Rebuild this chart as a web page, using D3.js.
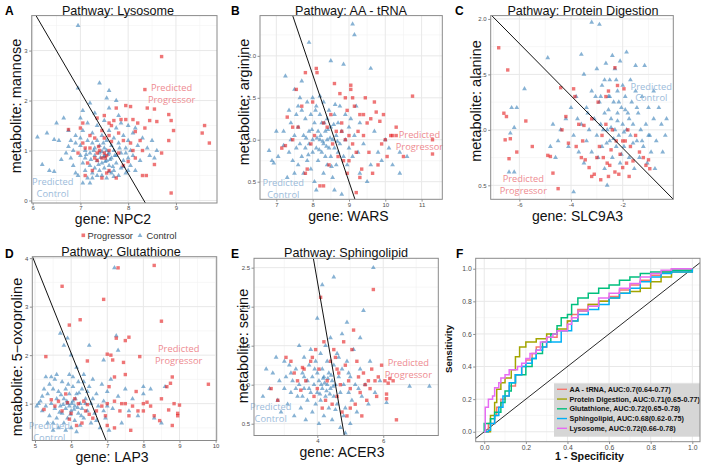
<!DOCTYPE html>
<html><head><meta charset="utf-8">
<script src="https://cdn.jsdelivr.net/npm/d3@7"></script>
<style>body{margin:0;background:#fff}svg{display:block}</style>
</head><body>
<svg id="c" width="704" height="466"></svg>
<script>
// ---------------- DATA ----------------
const lysoCtrl=[[6.1,1.27],[6.2,0.72],[6.35,0.6],[6.45,0.58],[6.3,1.35],[6.45,1.22],[6.55,1.2],[6.5,1.55],[6.6,0.82],[6.65,1.65],[6.7,0.95],[6.75,1.08],[6.8,1.2],[6.8,0.85],[6.85,1.0],[6.85,0.7],[6.9,1.3],[6.9,0.55],[6.95,0.5],[6.95,3.5],[6.95,2.25],[7.0,1.25],[7.0,0.9],[7.0,1.1],[7.05,0.35],[7.05,0.75],[7.05,1.4],[7.1,1.0],[7.1,0.6],[7.1,0.85],[7.15,1.2],[7.15,0.45],[7.2,0.35],[7.2,1.95],[7.2,0.95],[7.2,0.7],[7.25,1.15],[7.25,0.55],[7.25,1.35],[7.3,1.75],[7.3,0.9],[7.3,0.65],[7.3,1.05],[7.35,1.5],[7.35,0.8],[7.35,1.2],[7.4,2.35],[7.4,0.95],[7.4,0.6],[7.4,1.1],[7.45,1.3],[7.45,0.75],[7.45,0.5],[7.5,1.6],[7.5,0.9],[7.5,1.05],[7.5,0.65],[7.55,2.05],[7.55,0.8],[7.55,1.2],[7.55,0.45],[7.6,2.2],[7.6,0.95],[7.6,0.7],[7.6,1.4],[7.65,1.1],[7.65,0.55],[7.65,0.85],[7.7,1.25],[7.7,0.6],[7.7,1.0],[7.75,0.75],[7.75,1.45],[7.75,0.9],[7.8,1.15],[7.8,0.5],[7.8,1.7],[7.85,0.95],[7.85,0.65],[7.9,1.3],[7.9,0.8],[7.95,1.05],[7.95,0.55],[8.0,1.2],[8.0,0.85],[8.05,1.0],[8.05,0.7],[8.1,1.35],[8.1,0.9],[8.15,0.6],[8.2,1.1],[8.25,0.8],[8.3,1.25],[8.4,1.05],[8.45,0.9],[8.5,1.2],[8.55,0.85],[8.6,1.0],[7.0,1.65],[6.75,1.4],[7.15,1.55],[7.05,1.8],[6.9,1.15],[7.6,1.85],[7.75,2.0],[7.85,1.55],[8.0,1.5],[8.15,1.45],[7.45,0.98],[7.5,0.88],[7.55,1.0],[7.42,0.86],[7.58,0.92],[7.52,0.78],[7.38,0.72],[7.62,0.82],[7.48,1.15],[7.28,1.0],[7.22,0.82],[7.12,0.92],[7.68,0.68],[7.72,0.9],[7.82,1.05],[7.9,0.68],[7.95,0.95],[8.0,0.6],[7.35,0.5],[7.6,0.58],[7.7,0.48],[7.25,0.45]];
const lysoProg=[[8.7,2.88],[8.35,2.22],[8.55,1.83],[8.6,1.58],[8.85,1.72],[8.9,1.6],[8.95,1.4],[8.85,1.2],[9.6,1.5],[9.55,1.35],[9.7,1.15],[8.9,0.15],[8.7,0.95],[8.55,0.72],[8.3,0.5],[8.38,0.5],[8.3,1.0],[8.2,1.55],[8.35,1.45],[8.15,1.38],[8.1,1.62],[8.4,1.85],[8.05,1.88],[7.95,1.9],[7.75,1.85],[7.85,1.62],[7.95,1.62],[7.6,1.55],[7.5,1.7],[7.35,1.65],[7.6,1.3],[7.5,1.25],[7.65,1.18],[7.2,1.3],[7.05,1.55],[6.75,1.42],[7.1,1.05],[7.2,1.05],[7.35,0.8],[7.3,0.85],[7.35,0.95],[7.4,1.0],[7.38,1.08],[7.5,0.95],[7.55,0.9],[7.52,0.85],[7.6,1.0],[7.45,0.85],[7.25,0.6],[7.1,0.5],[7.45,0.45],[7.6,0.6],[7.9,0.7],[8.0,0.78],[8.1,1.0],[8.05,1.15],[7.9,1.2],[7.8,1.35],[7.65,1.5],[7.7,1.6],[7.0,1.45],[7.05,1.15],[6.95,0.95],[7.15,0.75],[7.55,0.55],[7.75,0.45],[8.15,0.85],[8.25,1.2],[7.8,0.95],[7.3,1.25],[7.45,1.4],[8.45,1.6]];
const trnaCtrl=[[6.8,0.87],[6.88,0.75],[6.93,0.72],[7.0,1.1],[7.05,0.8],[7.2,0.93],[7.25,1.76],[7.3,0.55],[7.35,0.85],[7.4,1.0],[7.4,1.2],[7.45,0.75],[7.5,1.05],[7.5,1.6],[7.55,0.9],[7.55,1.3],[7.6,0.7],[7.6,1.15],[7.65,1.5],[7.65,0.95],[7.7,1.35],[7.7,0.8],[7.7,1.7],[7.75,1.05],[7.75,0.6],[7.8,1.25],[7.8,0.9],[7.85,1.45],[7.85,0.75],[7.9,2.16],[7.9,1.1],[7.9,0.95],[7.95,1.3],[7.95,0.65],[8.0,1.5],[8.0,1.0],[8.0,0.85],[8.05,1.2],[8.05,0.5],[8.1,1.4],[8.1,0.9],[8.1,0.4],[8.15,1.1],[8.15,0.75],[8.2,1.3],[8.2,1.0],[8.2,1.52],[8.25,0.85],[8.25,1.2],[8.3,0.95],[8.3,1.45],[8.3,0.6],[8.35,1.1],[8.35,0.8],[8.4,1.25],[8.4,1.0],[8.4,0.7],[8.45,1.35],[8.45,0.9],[8.5,1.94],[8.5,1.15],[8.5,0.8],[8.55,1.0],[8.55,0.55],[8.6,1.3],[8.6,0.9],[8.6,0.4],[8.65,1.05],[8.65,0.7],[8.7,1.2],[8.7,0.85],[8.75,1.4],[8.75,0.95],[8.8,0.35],[8.8,1.1],[8.85,1.9],[8.85,0.8],[8.9,1.0],[8.9,1.3],[8.95,0.7],[9.0,1.15],[9.0,0.9],[9.05,1.25],[9.1,2.38],[9.1,0.8],[9.15,2.25],[9.15,1.05],[9.2,1.4],[9.3,0.6],[9.3,1.2],[9.4,0.95],[9.5,0.5],[9.6,1.85],[9.7,1.1],[9.8,0.85],[10.1,0.9],[10.2,0.7],[10.4,0.85],[10.4,0.6],[10.6,0.8],[8.22,1.05],[8.28,0.98],[8.38,0.92],[8.42,1.12],[8.12,1.02],[8.18,0.88],[8.48,1.02],[8.32,1.2],[7.98,1.12],[8.08,1.35],[8.58,1.18],[8.68,0.98],[7.82,1.02],[7.88,0.82],[8.52,0.68],[8.62,1.42],[7.6,1.4],[7.5,0.6],[7.35,1.35],[7.2,1.1],[9.25,0.85],[9.6,0.7],[10.0,1.0],[9.9,0.75]];
const trnaProg=[[7.15,0.9],[7.25,0.93],[7.3,1.27],[7.45,1.15],[7.45,1.0],[7.55,1.6],[7.7,1.4],[7.8,1.8],[7.8,0.6],[7.85,0.65],[7.95,0.95],[8.0,1.45],[8.1,1.85],[8.12,1.8],[8.2,0.45],[8.3,0.45],[8.4,1.15],[8.5,1.3],[8.6,1.67],[8.75,1.55],[8.8,1.2],[8.8,1.1],[8.9,1.0],[8.95,1.35],[9.0,0.75],[9.05,1.6],[9.05,1.65],[9.1,1.5],[9.15,1.4],[9.2,0.37],[9.2,0.85],[9.3,1.3],[9.35,0.65],[9.4,1.05],[9.45,1.5],[9.5,1.2],[9.55,0.85],[9.6,1.25],[9.7,1.45],[9.75,1.33],[9.8,0.7],[9.85,1.22],[9.9,0.95],[10.0,1.0],[10.05,0.8],[10.15,1.05],[10.2,1.05],[10.3,1.15],[10.5,0.8],[10.75,1.52],[11.3,1.0],[11.3,0.83],[8.55,0.95],[8.65,1.1],[8.7,0.8],[8.45,0.7],[8.85,0.75],[9.1,0.95],[9.25,1.1],[9.4,1.3],[9.0,1.05],[8.9,1.5],[8.3,1.2],[8.05,1.05],[7.6,1.15],[9.65,0.6],[9.3,0.55],[8.95,0.6],[10.3,1.05],[9.95,1.3]];
const protCtrl=[[-6.4,0.62],[-6.2,0.62],[-6.35,0.97],[-6.2,1.02],[-6.1,1.2],[-6.3,1.2],[-5.8,1.37],[-4.9,1.65],[-4.7,1.05],[-4.6,0.75],[-4.4,1.0],[-4.2,1.1],[-4.1,0.85],[-4.0,1.2],[-3.9,0.44],[-3.9,0.95],[-3.8,1.3],[-3.7,0.8],[-3.6,1.68],[-3.6,1.05],[-3.5,1.5],[-3.5,0.7],[-3.4,1.2],[-3.4,0.9],[-3.3,1.0],[-3.2,1.97],[-3.2,1.35],[-3.2,0.8],[-3.1,1.1],[-3.0,1.55],[-3.0,0.95],[-2.95,0.75],[-2.9,1.95],[-2.9,1.25],[-2.85,1.05],[-2.8,1.4],[-2.8,0.85],[-2.7,1.15],[-2.7,0.65],[-2.65,1.6],[-2.6,0.5],[-2.6,1.0],[-2.55,1.3],[-2.5,0.9],[-2.5,1.45],[-2.45,1.1],[-2.4,1.67],[-2.4,0.75],[-2.35,1.25],[-2.3,1.0],[-2.3,1.55],[-2.25,0.85],[-2.2,1.35],[-2.2,1.15],[-2.15,0.95],[-2.1,1.62],[-2.1,0.7],[-2.05,1.2],[-2.0,1.05],[-2.0,1.4],[-1.95,0.85],[-1.9,1.3],[-1.85,1.7],[-1.85,1.0],[-1.8,1.15],[-1.75,0.75],[-1.7,1.45],[-1.7,0.95],[-1.65,1.25],[-1.6,1.05],[-1.55,0.65],[-1.5,1.35],[-1.5,1.58],[-1.45,0.9],[-1.4,1.15],[-1.35,0.75],[-1.3,1.0],[-1.25,1.3],[-1.2,0.85],[-1.15,1.58],[-1.1,1.05],[-1.05,0.7],[-1.0,1.2],[-0.95,0.95],[-0.9,0.8],[-0.8,1.1],[-0.75,0.65],[-0.7,0.9],[-0.6,1.2],[-0.5,1.05],[-0.45,0.8],[-0.35,0.95],[-0.3,1.1],[-2.45,1.02],[-2.35,0.92],[-2.2,1.08],[-2.15,1.25],[-2.55,1.18],[-2.62,0.88],[-1.95,0.98],[-1.9,1.18],[-2.05,0.78],[-2.75,1.0],[-2.85,1.3],[-1.75,1.1],[-1.6,0.88],[-3.35,1.15],[-3.05,1.3],[-4.5,0.9],[-4.8,0.85],[-3.75,1.1],[-1.25,0.9],[-2.5,1.3],[-0.8,1.35],[-1.0,0.95],[-2.7,1.45],[-2.25,1.45],[-1.45,1.2]];
const protProg=[[-6.8,1.74],[-6.45,1.54],[-6.6,1.15],[-6.5,1.12],[-6.35,0.92],[-6.55,0.91],[-6.1,0.8],[-6.4,0.74],[-5.75,1.08],[-5.5,0.85],[-4.9,0.77],[-4.8,0.76],[-4.7,0.61],[-4.5,0.47],[-4.4,1.38],[-4.35,1.0],[-4.2,1.12],[-4.1,0.88],[-3.9,1.37],[-3.85,1.3],[-3.7,1.05],[-3.6,0.75],[-3.5,1.04],[-3.45,0.73],[-3.3,0.66],[-3.2,0.58],[-3.1,0.6],[-3.0,0.75],[-2.95,1.25],[-2.9,0.85],[-2.8,0.95],[-2.75,0.75],[-2.65,1.05],[-2.6,0.7],[-2.55,1.35],[-2.5,0.68],[-2.45,0.82],[-2.4,1.0],[-2.3,0.62],[-2.25,0.9],[-2.2,1.4],[-2.15,0.6],[-2.1,0.78],[-2.0,0.66],[-1.95,1.37],[-1.9,0.9],[-1.85,0.7],[-1.8,1.0],[-1.7,0.85],[-1.6,0.72],[-1.5,0.95],[-1.35,0.8],[-1.2,0.75],[-1.1,0.68],[-1.0,0.73],[-0.95,0.65],[-2.3,1.56],[-2.65,1.3],[-3.2,1.1],[-3.8,0.85],[-2.0,0.9],[-1.75,0.58],[-2.85,0.55],[-2.55,0.58],[-3.55,0.9]];
const glutCtrl=[[5.05,0.95],[5.1,1.0],[5.15,1.05],[5.2,0.85],[5.25,1.3],[5.3,1.55],[5.3,0.95],[5.35,1.2],[5.4,0.75],[5.4,1.4],[5.45,1.0],[5.5,1.3],[5.5,0.6],[5.55,0.9],[5.55,1.5],[5.6,1.1],[5.6,0.7],[5.65,1.25],[5.65,0.5],[5.7,2.45],[5.7,0.95],[5.75,1.45],[5.75,0.8],[5.8,2.2],[5.8,1.1],[5.8,0.6],[5.85,1.3],[5.85,0.9],[5.9,2.35],[5.9,1.0],[5.9,0.7],[5.95,1.6],[5.95,1.2],[6.0,2.0],[6.0,0.85],[6.0,0.5],[6.05,1.05],[6.05,1.35],[6.1,0.95],[6.1,0.65],[6.15,1.75],[6.15,1.2],[6.2,0.8],[6.2,1.45],[6.25,1.0],[6.25,0.55],[6.3,1.3],[6.3,0.9],[6.35,1.6],[6.35,0.7],[6.4,1.1],[6.45,0.85],[6.5,2.2],[6.5,1.35],[6.55,1.0],[6.55,0.6],[6.6,1.5],[6.65,0.8],[6.7,1.2],[6.75,0.95],[6.8,0.5],[6.85,1.4],[6.9,1.9],[6.9,1.05],[6.95,0.7],[7.0,1.25],[7.05,0.45],[7.1,1.5],[7.15,0.9],[7.2,3.8],[7.25,2.4],[7.3,2.1],[7.3,1.15],[7.4,0.6],[7.5,1.3],[7.6,0.85],[7.7,1.1],[7.85,0.75],[8.0,1.35],[8.0,1.2],[8.2,1.3],[8.3,0.7],[8.5,0.6],[8.6,1.35],[5.95,0.95],[6.02,1.0],[5.98,0.78],[6.08,0.88],[5.88,1.05],[6.12,1.1],[5.78,0.98],[6.18,0.92],[5.72,1.18],[6.22,1.22],[5.68,0.82],[6.28,0.75],[5.92,1.4],[6.4,1.0],[6.45,1.25],[6.6,1.1],[6.7,0.65],[5.45,1.55],[5.35,0.6],[5.6,1.6],[6.05,1.55],[6.35,1.45],[5.2,1.15],[6.9,0.85],[7.0,0.95],[5.5,0.45],[5.85,0.45],[6.15,0.42]];
const glutProg=[[5.3,1.97],[5.75,3.42],[5.95,2.62],[6.25,2.73],[6.45,1.88],[6.9,3.15],[7.0,2.02],[7.1,2.0],[7.15,1.9],[7.25,2.35],[7.3,3.8],[7.5,2.3],[7.6,2.37],[7.45,1.85],[7.2,1.55],[7.5,1.6],[7.9,1.97],[8.3,3.85],[8.5,2.7],[8.65,1.35],[8.75,1.42],[8.8,1.55],[8.85,1.0],[9.0,0.97],[8.95,0.8],[8.95,0.75],[8.8,0.55],[8.7,0.87],[8.5,1.1],[8.45,0.65],[8.3,0.75],[8.0,1.0],[8.0,0.85],[8.1,1.03],[7.85,0.85],[7.7,0.95],[7.65,0.45],[7.6,0.75],[7.5,1.0],[7.4,1.0],[7.35,0.85],[7.2,1.05],[7.2,0.5],[7.05,1.35],[7.0,1.0],[6.95,0.75],[6.85,0.95],[6.7,0.85],[6.6,0.7],[6.5,0.78],[6.45,0.98],[6.35,1.05],[6.3,0.6],[6.2,1.0],[6.1,1.1],[6.0,0.8],[5.95,0.68],[5.85,1.2],[5.75,0.85],[5.65,1.05],[5.55,0.95],[5.45,1.08],[5.25,0.88],[5.9,1.02],[6.15,0.55],[6.4,0.85],[9.8,1.4],[7.8,1.25],[7.0,0.55],[8.2,0.95]];
const sphCtrl=[[2.35,0.85],[2.45,1.2],[2.55,0.95],[2.65,1.15],[2.75,1.35],[2.8,0.8],[2.85,1.05],[2.9,0.65],[3.0,1.3],[3.0,0.95],[3.05,1.1],[3.1,0.75],[3.15,1.25],[3.2,0.9],[3.25,1.05],[3.3,0.6],[3.35,1.2],[3.4,0.85],[3.45,1.5],[3.45,1.0],[3.5,0.7],[3.55,1.15],[3.6,0.95],[3.6,1.35],[3.65,0.55],[3.7,1.05],[3.7,0.8],[3.75,1.25],[3.8,0.9],[3.8,1.45],[3.85,1.1],[3.85,0.65],[3.9,1.0],[3.95,1.3],[3.95,0.75],[4.0,1.85],[4.0,1.15],[4.0,0.9],[4.05,0.5],[4.05,1.05],[4.1,1.4],[4.1,0.8],[4.15,2.28],[4.15,1.2],[4.15,0.95],[4.2,0.6],[4.2,1.1],[4.25,1.5],[4.25,0.85],[4.3,1.0],[4.3,1.3],[4.35,0.7],[4.35,1.15],[4.4,0.95],[4.4,1.6],[4.45,1.05],[4.45,0.55],[4.5,2.38],[4.5,1.25],[4.5,0.85],[4.55,1.0],[4.6,1.4],[4.6,0.75],[4.65,1.1],[4.7,0.45],[4.7,0.9],[4.75,1.65],[4.75,1.2],[4.8,1.0],[4.85,0.38],[4.85,0.7],[4.9,1.8],[4.9,1.3],[4.95,0.9],[5.0,1.1],[5.0,0.5],[5.05,0.8],[5.1,1.45],[5.15,1.0],[5.2,0.65],[5.3,1.6],[5.3,1.2],[5.35,0.85],[5.4,1.95],[5.45,1.0],[5.55,0.75],[5.6,1.3],[5.7,2.5],[5.75,0.9],[5.9,1.05],[6.1,0.77],[6.8,0.98],[7.4,0.98],[4.22,1.02],[4.28,0.92],[4.32,1.08],[4.38,0.88],[4.12,1.0],[4.18,1.08],[4.42,1.12],[4.48,0.98],[4.08,0.88],[3.92,1.2],[4.55,0.68],[3.75,0.95],[3.55,0.85],[4.65,1.35],[4.8,0.6],[3.35,0.95],[4.95,1.15],[3.2,1.15],[5.25,0.95],[3.6,1.1]];
const sphProg=[[2.6,0.95],[2.8,0.8],[3.05,1.35],[3.2,1.3],[3.3,1.15],[3.4,1.05],[3.5,0.93],[3.55,1.22],[3.65,1.05],[3.6,1.2],[3.8,1.3],[3.85,1.35],[3.9,0.85],[4.0,0.95],[4.1,2.12],[4.2,1.55],[4.3,1.05],[4.4,1.3],[4.5,1.45],[4.55,1.35],[4.6,0.85],[4.65,1.15],[4.7,1.0],[4.75,0.65],[4.8,1.55],[4.85,1.25],[4.9,0.6],[4.95,1.05],[5.0,0.95],[5.05,1.45],[5.1,1.7],[5.15,0.75],[5.2,1.3],[5.25,1.1],[5.3,0.9],[5.35,0.6],[5.45,1.0],[5.5,0.8],[5.55,1.05],[5.6,0.95],[5.65,1.2],[5.7,2.22],[5.75,1.05],[5.8,0.85],[5.85,1.1],[6.05,1.05],[6.1,0.88],[6.1,0.82],[6.15,1.02],[6.2,1.08],[6.3,1.05],[6.4,0.55],[5.95,1.25],[4.45,0.75],[4.25,0.8],[3.95,1.45],[4.05,1.2],[4.15,0.7],[5.4,1.15],[5.0,0.7],[4.6,1.2]];

// decision boundaries (two endpoints, data units)
const lysoLine=[[6.07,3.7],[8.36,-0.05]];
const trnaLine=[[7.45,2.48],[9.165,0.29]];
const protLine=[[-7.07,2.03],[-0.04,0.374]];
const glutLine=[[4.93,4.03],[6.97,0.24]];
const sphLine=[[3.88,2.62],[4.82,0.349]];

// tick labels
const lysoXTicks=[6,7,8,9], lysoYTicks=[0,1,2,3];
const trnaXTicks=[7,8,9,10,11], trnaYTicks=[0.5,1.0,1.5,2.0];
const protXTicks=[-6,-4,-2], protYTicks=[0.5,1.0,1.5,2.0];
const glutXTicks=[5,6,7,8,9,10], glutYTicks=[1,2,3,4];
const sphXTicks=[4,6], sphYTicks=[0.5,1.0,1.5,2.0,2.5];
const rocTicks=[0,0.2,0.4,0.6,0.8,1.0];

// ROC curves [1-specificity, sensitivity]
const rocAA=[[0,0],[0.02,0.05],[0.05,0.1],[0.06,0.15],[0.08,0.2],[0.1,0.22],[0.12,0.28],[0.15,0.35],[0.18,0.4],[0.2,0.44],[0.23,0.48],[0.25,0.52],[0.3,0.58],[0.35,0.62],[0.4,0.68],[0.42,0.72],[0.45,0.75],[0.5,0.78],[0.55,0.8],[0.6,0.83],[0.65,0.87],[0.7,0.9],[0.75,0.93],[0.8,0.96],[0.85,0.98],[0.9,1.0],[1,1]];
const rocProt=[[0,0],[0.03,0.1],[0.05,0.18],[0.06,0.26],[0.08,0.3],[0.1,0.33],[0.13,0.38],[0.15,0.46],[0.17,0.52],[0.2,0.55],[0.25,0.57],[0.3,0.6],[0.35,0.63],[0.4,0.68],[0.45,0.74],[0.5,0.78],[0.55,0.8],[0.6,0.82],[0.65,0.85],[0.7,0.86],[0.75,0.88],[0.8,0.92],[0.85,0.95],[0.9,0.98],[1,1]];
const rocGlut=[[0,0],[0,0.05],[0.03,0.08],[0.05,0.12],[0.08,0.18],[0.1,0.25],[0.13,0.3],[0.15,0.35],[0.2,0.4],[0.23,0.45],[0.25,0.48],[0.28,0.55],[0.32,0.6],[0.35,0.65],[0.37,0.7],[0.4,0.72],[0.42,0.78],[0.45,0.82],[0.5,0.85],[0.55,0.88],[0.6,0.9],[0.65,0.93],[0.7,0.95],[0.75,0.97],[0.8,0.98],[0.9,0.99],[1,1]];
const rocSph=[[0,0],[0.02,0.01],[0.03,0.05],[0.05,0.1],[0.07,0.15],[0.09,0.22],[0.12,0.3],[0.15,0.35],[0.18,0.4],[0.2,0.42],[0.23,0.45],[0.25,0.5],[0.28,0.52],[0.3,0.55],[0.35,0.55],[0.37,0.62],[0.42,0.68],[0.45,0.72],[0.5,0.75],[0.55,0.78],[0.6,0.82],[0.65,0.85],[0.7,0.88],[0.75,0.92],[0.8,0.95],[0.85,0.97],[0.9,0.98],[1,1]];
const rocLyso=[[0,0],[0.005,0.15],[0.02,0.15],[0.02,0.2],[0.04,0.22],[0.05,0.27],[0.07,0.3],[0.08,0.33],[0.1,0.35],[0.12,0.38],[0.15,0.38],[0.16,0.4],[0.18,0.42],[0.2,0.45],[0.22,0.48],[0.25,0.5],[0.27,0.55],[0.3,0.58],[0.33,0.6],[0.35,0.62],[0.4,0.66],[0.42,0.7],[0.45,0.74],[0.5,0.77],[0.55,0.82],[0.6,0.85],[0.65,0.88],[0.7,0.91],[0.75,0.95],[0.8,0.97],[0.85,0.99],[0.9,1.0],[1,1]];
const rocNames=["AA - tRNA, AUC:0.7(0.64-0.77)","Protein Digestion, AUC:0.71(0.65-0.77)","Glutathione, AUC:0.72(0.65-0.78)","Sphingolipid, AUC:0.68(0.62-0.75)","Lysosome, AUC:0.72(0.66-0.78)"];
const rocSeries=[rocAA,rocProt,rocGlut,rocSph,rocLyso];
const rocColors=["#F8766D","#A3A500","#00BF7D","#00B0F6","#E76BF3"];
const legendLabels=["Progressor","Control"];

// ---------------- DRAW ----------------
const svg=d3.select("#c");
const PROG="#E41A1C", CTRL="#377EB8";
const PROG_TXT="#EE8A90", CTRL_TXT="#9BBBDA";
const SANS="'Liberation Sans', Arial, sans-serif";

const panels=[
 {id:"A",title:"Pathway: Lysosome",xl:"gene: NPC2",yl:"metabolite: mannose",ctrl:lysoCtrl,prog:lysoProg,line:lysoLine,xt:lysoXTicks,yt:lysoYTicks,
  xd:[5.98,9.86],yd:[-0.05,3.7],l:31.7,r:217,t:15.6,b:203,fx:d3.format("d"),fy:d3.format("d"),
  tl:[118,14.5],xlab:[113,224],ylab:[16,106],lab:[5,15],pp:[8.91,2.14],pc:[6.42,0.256]},
 {id:"B",title:"Pathway: AA - tRNA",xl:"gene: WARS",yl:"metabolite: arginine",ctrl:trnaCtrl,prog:trnaProg,line:trnaLine,xt:trnaXTicks,yt:trnaYTicks,
  xd:[6.55,11.57],yd:[0.29,2.48],l:260,r:442.3,t:15.6,b:199.3,fx:d3.format("d"),fy:d3.format(".1f"),
  tl:[351,14.5],xlab:[348.5,220.5],ylab:[244,102],lab:[231,15],pp:[10.94,0.989],pc:[7.19,0.421]},
 {id:"C",title:"Pathway: Protein Digestion",xl:"gene: SLC9A3",yl:"metabolite: alanine",ctrl:protCtrl,prog:protProg,line:protLine,xt:protXTicks,yt:protYTicks,
  xd:[-7.11,-0.04],yd:[0.374,2.03],l:490.7,r:673.3,t:15.6,b:199.3,fx:d=>String(d),fy:d3.format(".1f"),
  tl:[583,14.5],xlab:[577.5,220.5],ylab:[476,101],lab:[455,15],pp:[-5.848,0.507],pc:[-0.893,1.343]},
 {id:"D",title:"Pathway: Glutathione",xl:"gene: LAP3",yl:"metabolite: 5\u2212oxoproline",ctrl:glutCtrl,prog:glutProg,line:glutLine,xt:glutXTicks,yt:glutYTicks,
  xd:[4.925,10.03],yd:[0.24,4.03],l:32.3,r:216.7,t:256.7,b:440.5,fx:d3.format("d"),fy:d3.format("d"),
  tl:[121,256],xlab:[112,461.5],ylab:[17,357],lab:[5,258],pp:[8.978,2.019],pc:[5.396,0.421]},
 {id:"E",title:"Pathway: Sphingolipid",xl:"gene: ACER3",yl:"metabolite: serine",ctrl:sphCtrl,prog:sphProg,line:sphLine,xt:sphXTicks,yt:sphYTicks,
  xd:[2.08,7.67],yd:[0.349,2.62],l:254,r:438.3,t:258.3,b:435.5,fx:d3.format("d"),fy:d3.format(".1f"),
  tl:[346,256.5],xlab:[342,457],ylab:[243,346],lab:[231,258],pp:[6.76,1.211],pc:[2.587,0.640]}
];

function minorOf(ticks,dom){
  const step=ticks.length>1?ticks[1]-ticks[0]:1;
  const out=[];
  for(let v=ticks[0]-step*2.5; v<=dom[1]+1e-9; v+=step){ if(v>=dom[0]) out.push(v); }
  return out;
}
function majorOf(ticks,dom){
  const step=ticks.length>1?ticks[1]-ticks[0]:1;
  const out=[];
  for(let v=ticks[0]-step*3; v<=dom[1]+1e-9; v+=step){ if(v>=dom[0]-1e-9) out.push(+v.toFixed(6)); }
  return out;
}

function frame(g,p,x,y,clipId){
  g.append("clipPath").attr("id",clipId).append("rect")
    .attr("x",p.l).attr("y",p.t).attr("width",p.r-p.l).attr("height",p.b-p.t);
  g.append("rect").attr("x",p.l).attr("y",p.t).attr("width",p.r-p.l).attr("height",p.b-p.t).attr("fill","#fff");
  const gx=g.append("g");
  minorOf(p.xt,p.xd).forEach(v=>gx.append("line").attr("x1",x(v)).attr("x2",x(v)).attr("y1",p.t).attr("y2",p.b).attr("stroke","#f2f2f2").attr("stroke-width",0.6));
  minorOf(p.yt,p.yd).forEach(v=>gx.append("line").attr("y1",y(v)).attr("y2",y(v)).attr("x1",p.l).attr("x2",p.r).attr("stroke","#f2f2f2").attr("stroke-width",0.6));
  majorOf(p.xt,p.xd).forEach(v=>gx.append("line").attr("x1",x(v)).attr("x2",x(v)).attr("y1",p.t).attr("y2",p.b).attr("stroke","#e8e8e8").attr("stroke-width",1));
  majorOf(p.yt,p.yd).forEach(v=>gx.append("line").attr("y1",y(v)).attr("y2",y(v)).attr("x1",p.l).attr("x2",p.r).attr("stroke","#e8e8e8").attr("stroke-width",1));
}
function axes(g,p,x,y,fs){
  const ax=g.append("g").attr("transform",`translate(0,${p.b})`)
    .call(d3.axisBottom(x).tickValues(p.xt).tickSize(2.3).tickPadding(0.8).tickFormat(p.fx));
  const ay=g.append("g").attr("transform",`translate(${p.l},0)`)
    .call(d3.axisLeft(y).tickValues(p.yt).tickSize(2.5).tickPadding(1.5).tickFormat(p.fy));
  [ax,ay].forEach(a=>{
    a.select(".domain").remove();
    a.selectAll(".tick line").attr("stroke","#444").attr("stroke-width",0.6);
    a.selectAll(".tick text").attr("fill","#4d4d4d").style("font-size",fs+"px").style("font-family",SANS);
  });
  g.append("rect").attr("x",p.l).attr("y",p.t).attr("width",p.r-p.l).attr("height",p.b-p.t)
    .attr("fill","none").attr("stroke","#8a8a8a").attr("stroke-width",1);
}

const tri=d3.symbol().type(d3.symbolTriangle).size(10);
panels.forEach(p=>{
  const x=d3.scaleLinear().domain(p.xd).range([p.l,p.r]);
  const y=d3.scaleLinear().domain(p.yd).range([p.b,p.t]);
  const g=svg.append("g");
  const cid="clip"+p.id;
  frame(g,p,x,y,cid);
  const pts=g.append("g").attr("clip-path",`url(#${cid})`);
  pts.selectAll("path.c").data(p.ctrl).join("path").attr("class","c")
    .attr("d",tri).attr("transform",d=>`translate(${x(d[0])},${y(d[1])})`)
    .attr("fill",CTRL).attr("fill-opacity",0.6);
  pts.selectAll("rect.p").data(p.prog).join("rect").attr("class","p")
    .attr("x",d=>x(d[0])-1.7).attr("y",d=>y(d[1])-1.7).attr("width",3.4).attr("height",3.4)
    .attr("fill",PROG).attr("fill-opacity",0.6);
  pts.append("path").datum(p.line).attr("d",d3.line().x(d=>x(d[0])).y(d=>y(d[1])))
    .attr("stroke","#111").attr("stroke-width",1).attr("fill","none");
  // annotations
  [[p.pp,"Progressor",PROG_TXT],[p.pc,"Control",CTRL_TXT]].forEach(([pos,w,col])=>{
    const t=g.append("text").attr("text-anchor","middle").attr("fill",col)
      .style("font-family","'Open Sans', sans-serif").style("font-size","9.3px");
    t.append("tspan").attr("x",x(pos[0])).attr("y",y(pos[1])-2.3).text("Predicted");
    t.append("tspan").attr("x",x(pos[0])).attr("y",y(pos[1])+9.3).text(w);
  });
  axes(g,p,x,y,6);
  g.append("text").attr("x",p.tl[0]).attr("y",p.tl[1]).attr("text-anchor","middle")
    .style("font-family",SANS).style("font-size","12.6px").attr("fill","#111").text(p.title);
  g.append("text").attr("x",p.xlab[0]).attr("y",p.xlab[1]).attr("text-anchor","middle")
    .style("font-family",SANS).style("font-size","14px").attr("fill","#111").text(p.xl);
  g.append("text").attr("transform",`translate(${p.ylab[0]},${p.ylab[1]}) rotate(-90)`)
    .attr("text-anchor","middle").attr("dominant-baseline","central")
    .style("font-family",SANS).style("font-size","14.5px").attr("fill","#111").text(p.yl);
  g.append("text").attr("x",p.lab[0]).attr("y",p.lab[1]).style("font-family",SANS)
    .style("font-size","12px").style("font-weight","bold").attr("fill","#000").text(p.id);
});

// shared legend
{
  const lg=svg.append("g");
  lg.append("rect").attr("x",81.5).attr("y",233.5).attr("width",3.6).attr("height",3.6).attr("fill",PROG).attr("fill-opacity",0.6);
  lg.append("text").attr("x",87.5).attr("y",238.5).style("font-family",SANS).style("font-size","9.3px").attr("fill","#333").text(legendLabels[0]);
  lg.append("path").attr("d",tri).attr("transform","translate(140,235.5)").attr("fill",CTRL).attr("fill-opacity",0.6);
  lg.append("text").attr("x",146.5).attr("y",238.5).style("font-family",SANS).style("font-size","9.3px").attr("fill","#333").text(legendLabels[1]);
}

// ROC panel F
{
  const p={l:475.7,r:700,t:258.3,b:441.7,xd:[-0.041,1.037],yd:[-0.061,1.064],xt:rocTicks,yt:rocTicks,fx:d3.format(".1f"),fy:d3.format(".1f")};
  const x=d3.scaleLinear().domain(p.xd).range([p.l,p.r]);
  const y=d3.scaleLinear().domain(p.yd).range([p.b,p.t]);
  const g=svg.append("g");
  frame(g,p,x,y,"clipF");
  const c=g.append("g").attr("clip-path","url(#clipF)");
  c.append("line").attr("x1",x(-0.1)).attr("y1",y(-0.1)).attr("x2",x(1.1)).attr("y2",y(1.1)).attr("stroke","#111").attr("stroke-width",0.9);
  const ln=d3.line().x(d=>x(d[0])).y(d=>y(d[1])).curve(d3.curveStepAfter);
  rocSeries.forEach((s,i)=>c.append("path").datum(s).attr("d",ln).attr("fill","none").attr("stroke",rocColors[i]).attr("stroke-width",1.5));
  // legend
  const L=g.append("g");
  L.append("rect").attr("x",554).attr("y",383.3).attr("width",146).attr("height",53.4).attr("fill","#d6d6d6");
  rocNames.forEach((n,i)=>{
    const yy=389.3+i*9.75;
    L.append("line").attr("x1",557).attr("x2",567).attr("y1",yy).attr("y2",yy).attr("stroke",rocColors[i]).attr("stroke-width",1.4);
    L.append("text").attr("x",569.5).attr("y",yy+2.5).style("font-family",SANS).style("font-size","7.2px").style("font-weight","bold").attr("fill","#111").text(n);
  });
  axes(g,p,x,y,6.8);
  g.append("text").attr("x",589.5).attr("y",460).attr("text-anchor","middle").style("font-family",SANS)
    .style("font-size","10.7px").style("font-weight","bold").attr("fill","#111").text("1 - Specificity");
  g.append("text").attr("transform","translate(448,349) rotate(-90)").attr("text-anchor","middle").attr("dominant-baseline","central")
    .style("font-family",SANS).style("font-size","9.6px").style("font-weight","bold").attr("fill","#111").text("Sensitivity");
  g.append("text").attr("x",456).attr("y",258).style("font-family",SANS)
    .style("font-size","12px").style("font-weight","bold").attr("fill","#000").text("F");
}
</script>
</body></html>
